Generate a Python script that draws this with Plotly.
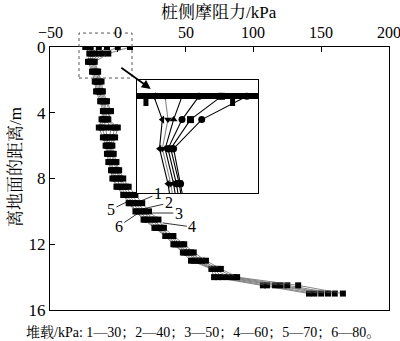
import plotly.graph_objects as go

# Depth below ground (m)
depth = [0, 0.4, 0.9, 1.5, 2.1, 2.7, 3.3, 3.9, 4.4, 4.9, 5.5, 6.0, 6.5, 7.0, 7.5,
         8.0, 8.5, 9.0, 9.5, 10.0, 10.5, 11.0, 11.5, 12.0, 12.5, 13.0, 13.5, 14.0, 14.5, 15.0]

# Side friction (kPa) for each surcharge case
s1 = [-24, -21, -22, -19, -17, -16, -13, -11, -12, -14, -11, -9, -8, -7, -5,
      -4, -1, 4, 8, 13, 19, 27, 35, 41, 48, 54, 69, 71, 107, 141]
s2 = [-20, -19, -21, -18, -16, -15, -12, -10, -11, -12, -9, -8, -7, -6, -4,
      -3, 0, 5, 9, 14, 20, 28, 36, 42, 49, 56, 70, 74, 110, 145]
s3 = [-14, -17, -20, -17, -15, -14, -11, -9, -10, -9, -8, -7, -6, -5, -3,
      -1, 2, 6, 11, 16, 22, 29, 37, 43, 51, 58, 71, 77, 116, 150]
s4 = [-8, -14, -19, -16, -14, -13, -10, -8, -9, -5, -6, -6, -5, -3, -1,
      1, 4, 8, 13, 18, 25, 31, 38, 45, 52, 60, 72, 81, 120, 155]
s5 = [0, -11, -18, -15, -13, -12, -9, -6, -8, -2, -4, -5, -4, -2, 0,
      2, 6, 10, 15, 20, 27, 32, 39, 47, 54, 62, 74, 85, 125, 160]
s6 = [9, -7, -17, -14.5, -12, -11, -8, -5, -7, 0, -2, -4, -3, -1, 1,
      4, 8, 13, 18, 23, 30, 34, 41, 49, 56, 65, 76, 88, 133, 166]

series = [s1, s2, s3, s4, s5, s6]
names = ["1", "2", "3", "4", "5", "6"]
inset_symbols = ["triangle-left", "triangle-down", "triangle-up", "circle", "square", "circle"]
inset_line_colors = ["#000", "#888", "#000", "#000", "#000", "#000"]

x_ticks = [-50, 0, 50, 100, 150, 200]
x_tick_text = ["−50", "0", "50", "100", "150", "200"]
y_ticks = [0, 4, 8, 12, 16]

SERIF = "Liberation Serif, 'Noto Serif CJK SC', 'Noto Sans CJK SC', serif"

fig = go.Figure()

# main curves
for vals, name in zip(series, names):
    fig.add_trace(go.Scatter(
        x=vals, y=depth, name=name, mode="lines+markers",
        line=dict(color="#555", width=0.7),
        marker=dict(symbol="square", size=6, color="black"),
        showlegend=False, cliponaxis=True,
    ))

# enlarged view of the top of the pile
for vals, name, sym, lc in zip(series, names, inset_symbols, inset_line_colors):
    fig.add_trace(go.Scatter(
        x=vals, y=depth, name=name, mode="lines+markers",
        xaxis="x2", yaxis="y2",
        line=dict(color=lc, width=1.1),
        marker=dict(symbol=sym, size=7, color="black"),
        showlegend=False,
    ))

axis_line = dict(showline=True, linecolor="black", linewidth=1, mirror=True,
                 showgrid=False, zeroline=False, automargin=False)

fig.update_layout(
    width=400, height=341,
    margin=dict(l=50, r=11, t=47, b=31, autoexpand=False),
    paper_bgcolor="white", plot_bgcolor="white",
    font=dict(family=SERIF, color="black", size=16),
    xaxis=dict(range=[-50, 200], side="top", tickvals=x_ticks,
               ticks="inside", ticklen=5, tickcolor="black",
               showticklabels=False, **axis_line),
    yaxis=dict(range=[16, 0], tickvals=y_ticks, ticks="inside", ticklen=5,
               tickcolor="black", ticklabeloverflow="allow",
               tickfont=dict(size=17, family=SERIF), **axis_line),
    xaxis2=dict(domain=[0.2566, 0.6136], anchor="y2", range=[-30, 13],
                showticklabels=False, ticks="", **axis_line),
    yaxis2=dict(domain=[0.4449, 0.8745], anchor="x2", range=[1.66, -0.28],
                showticklabels=False, ticks="", **axis_line),
)

# dashed frame around the zoomed region
fig.add_shape(type="rect", xref="x domain", yref="y domain",
              x0=0.0855, x1=0.2419, y0=0.882, y1=1.053,
              line=dict(color="#555", width=1, dash="dot"))

# pile cap bar inside the enlarged view
fig.add_shape(type="line", xref="x2 domain", yref="y2 domain",
              x0=0, x1=1, y0=0.858, y1=0.858,
              line=dict(color="black", width=6))
for xd in (0.074, 0.79):
    fig.add_shape(type="line", xref="x2 domain", yref="y2 domain",
                  x0=xd, x1=xd, y0=0.858, y1=0.77,
                  line=dict(color="black", width=5))

annotations = []

# top axis tick labels
for tv, tt in zip(x_ticks, x_tick_text):
    annotations.append(dict(text=tt, x=tv, xref="x", y=1.056, yref="paper",
                            xanchor="center", yanchor="middle", showarrow=False,
                            font=dict(size=16, family=SERIF)))

# arrow pointing to the enlarged view
annotations.append(dict(x=24.3, y=2.55, ax=1.5, ay=1.2, xref="x", yref="y",
                        axref="x", ayref="y", text="", showarrow=True,
                        arrowhead=2, arrowsize=1, arrowwidth=1.8, arrowcolor="black"))

# curve labels with leader lines
label_pos = [
    ("1", 13.3, 9.49, 29.5, 8.94),
    ("2", 18.4, 9.85, 37.6, 9.49),
    ("3", 24.0, 10.1, 45.0, 10.1),
    ("4", 33.0, 10.7, 55.0, 10.95),
    ("5", 9.6, 9.3, -5.0, 9.9),
    ("6", 17.0, 10.0, 0.7, 10.9),
]
for txt, xt, yt, xl, yl in label_pos:
    annotations.append(dict(x=xt, y=yt, ax=xl, ay=yl, xref="x", yref="y",
                            axref="x", ayref="y", text=txt, showarrow=True,
                            arrowhead=0, arrowwidth=0.8, arrowcolor="black",
                            font=dict(size=16, family=SERIF)))

# axis titles and note
annotations.append(dict(text="桩侧摩阻力/kPa", xref="paper", yref="paper",
                        x=0.4985, y=1.1330, xanchor="center", yanchor="middle",
                        showarrow=False, font=dict(size=17, family=SERIF)))
annotations.append(dict(text="离地面的距离/m", xref="paper", yref="paper",
                        x=-0.1032, y=0.5437, xanchor="center", yanchor="middle",
                        textangle=-90, showarrow=False, font=dict(size=17, family=SERIF)))
annotations.append(dict(text="堆载/kPa: 1—30；2—40；3—50；4—60；5—70；6—80。",
                        xref="paper", yref="paper", x=0.4513, y=-0.0837,
                        xanchor="center", yanchor="middle", showarrow=False,
                        font=dict(size=14, family=SERIF)))
fig.update_layout(annotations=annotations)

fig.write_html("out.html")
